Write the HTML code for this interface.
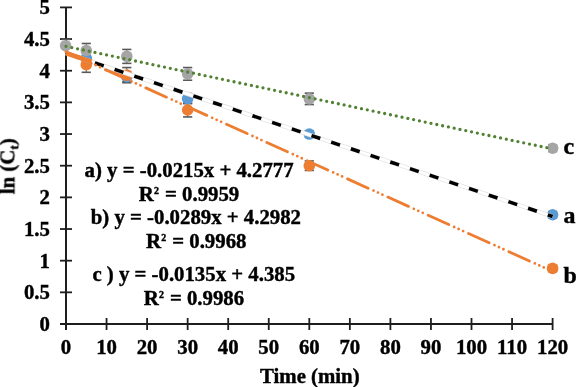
<!DOCTYPE html><html><head><meta charset="utf-8"><style>html,body{margin:0;padding:0;background:#fff;width:576px;height:387px;overflow:hidden}svg{display:block}text{will-change:transform;stroke:#000;stroke-width:0.4px}</style></head><body>
<svg width="576" height="387" viewBox="0 0 576 387">
<defs><clipPath id="cD"><rect x="548.1" y="130" width="20" height="40"/></clipPath></defs>
<rect width="576" height="387" fill="#fff"/>
<g stroke="#1e1e1e" stroke-width="2" fill="none">
<line x1="66" y1="7" x2="66" y2="330"/>
<line x1="60" y1="324" x2="553.1" y2="324"/>
<line x1="60" y1="324.00" x2="72" y2="324.00" stroke-width="1.8"/>
<line x1="60" y1="292.34" x2="72" y2="292.34" stroke-width="1.8"/>
<line x1="60" y1="260.68" x2="72" y2="260.68" stroke-width="1.8"/>
<line x1="60" y1="229.02" x2="72" y2="229.02" stroke-width="1.8"/>
<line x1="60" y1="197.36" x2="72" y2="197.36" stroke-width="1.8"/>
<line x1="60" y1="165.70" x2="72" y2="165.70" stroke-width="1.8"/>
<line x1="60" y1="134.04" x2="72" y2="134.04" stroke-width="1.8"/>
<line x1="60" y1="102.38" x2="72" y2="102.38" stroke-width="1.8"/>
<line x1="60" y1="70.72" x2="72" y2="70.72" stroke-width="1.8"/>
<line x1="60" y1="39.06" x2="72" y2="39.06" stroke-width="1.8"/>
<line x1="60" y1="7.40" x2="72" y2="7.40" stroke-width="1.8"/>
<line x1="106.55" y1="318" x2="106.55" y2="330" stroke-width="1.8"/>
<line x1="147.10" y1="318" x2="147.10" y2="330" stroke-width="1.8"/>
<line x1="187.65" y1="318" x2="187.65" y2="330" stroke-width="1.8"/>
<line x1="228.20" y1="318" x2="228.20" y2="330" stroke-width="1.8"/>
<line x1="268.75" y1="318" x2="268.75" y2="330" stroke-width="1.8"/>
<line x1="309.30" y1="318" x2="309.30" y2="330" stroke-width="1.8"/>
<line x1="349.85" y1="318" x2="349.85" y2="330" stroke-width="1.8"/>
<line x1="390.40" y1="318" x2="390.40" y2="330" stroke-width="1.8"/>
<line x1="430.95" y1="318" x2="430.95" y2="330" stroke-width="1.8"/>
<line x1="471.50" y1="318" x2="471.50" y2="330" stroke-width="1.8"/>
<line x1="512.05" y1="318" x2="512.05" y2="330" stroke-width="1.8"/>
<line x1="552.60" y1="318" x2="552.60" y2="330" stroke-width="1.8"/>
</g>
<g fill="#000">
<text transform="translate(49.90,330.90) scale(1.04,1)" text-anchor="end" style='font-family:"Liberation Serif",serif;font-weight:bold;font-size:20px'>0</text>
<text transform="translate(49.90,299.24) scale(1.04,1)" text-anchor="end" style='font-family:"Liberation Serif",serif;font-weight:bold;font-size:20px'>0.5</text>
<text transform="translate(49.90,267.58) scale(1.04,1)" text-anchor="end" style='font-family:"Liberation Serif",serif;font-weight:bold;font-size:20px'>1</text>
<text transform="translate(49.90,235.92) scale(1.04,1)" text-anchor="end" style='font-family:"Liberation Serif",serif;font-weight:bold;font-size:20px'>1.5</text>
<text transform="translate(49.90,204.26) scale(1.04,1)" text-anchor="end" style='font-family:"Liberation Serif",serif;font-weight:bold;font-size:20px'>2</text>
<text transform="translate(49.90,172.60) scale(1.04,1)" text-anchor="end" style='font-family:"Liberation Serif",serif;font-weight:bold;font-size:20px'>2.5</text>
<text transform="translate(49.90,140.94) scale(1.04,1)" text-anchor="end" style='font-family:"Liberation Serif",serif;font-weight:bold;font-size:20px'>3</text>
<text transform="translate(49.90,109.28) scale(1.04,1)" text-anchor="end" style='font-family:"Liberation Serif",serif;font-weight:bold;font-size:20px'>3.5</text>
<text transform="translate(49.90,77.62) scale(1.04,1)" text-anchor="end" style='font-family:"Liberation Serif",serif;font-weight:bold;font-size:20px'>4</text>
<text transform="translate(49.90,45.96) scale(1.04,1)" text-anchor="end" style='font-family:"Liberation Serif",serif;font-weight:bold;font-size:20px'>4.5</text>
<text transform="translate(49.90,14.30) scale(1.04,1)" text-anchor="end" style='font-family:"Liberation Serif",serif;font-weight:bold;font-size:20px'>5</text>
<text transform="translate(66.00,354.30) scale(1.04,1)" text-anchor="middle" style='font-family:"Liberation Serif",serif;font-weight:bold;font-size:20px'>0</text>
<text transform="translate(106.55,354.30) scale(1.04,1)" text-anchor="middle" style='font-family:"Liberation Serif",serif;font-weight:bold;font-size:20px'>10</text>
<text transform="translate(147.10,354.30) scale(1.04,1)" text-anchor="middle" style='font-family:"Liberation Serif",serif;font-weight:bold;font-size:20px'>20</text>
<text transform="translate(187.65,354.30) scale(1.04,1)" text-anchor="middle" style='font-family:"Liberation Serif",serif;font-weight:bold;font-size:20px'>30</text>
<text transform="translate(228.20,354.30) scale(1.04,1)" text-anchor="middle" style='font-family:"Liberation Serif",serif;font-weight:bold;font-size:20px'>40</text>
<text transform="translate(268.75,354.30) scale(1.04,1)" text-anchor="middle" style='font-family:"Liberation Serif",serif;font-weight:bold;font-size:20px'>50</text>
<text transform="translate(309.30,354.30) scale(1.04,1)" text-anchor="middle" style='font-family:"Liberation Serif",serif;font-weight:bold;font-size:20px'>60</text>
<text transform="translate(349.85,354.30) scale(1.04,1)" text-anchor="middle" style='font-family:"Liberation Serif",serif;font-weight:bold;font-size:20px'>70</text>
<text transform="translate(390.40,354.30) scale(1.04,1)" text-anchor="middle" style='font-family:"Liberation Serif",serif;font-weight:bold;font-size:20px'>80</text>
<text transform="translate(430.95,354.30) scale(1.04,1)" text-anchor="middle" style='font-family:"Liberation Serif",serif;font-weight:bold;font-size:20px'>90</text>
<text transform="translate(471.50,354.30) scale(1.04,1)" text-anchor="middle" style='font-family:"Liberation Serif",serif;font-weight:bold;font-size:20px'>100</text>
<text transform="translate(512.05,354.30) scale(1.04,1)" text-anchor="middle" style='font-family:"Liberation Serif",serif;font-weight:bold;font-size:20px'>110</text>
<text transform="translate(552.60,354.30) scale(1.04,1)" text-anchor="middle" style='font-family:"Liberation Serif",serif;font-weight:bold;font-size:20px'>120</text>
<text transform="translate(309.80,383.20) scale(1.04,1)" text-anchor="middle" style='font-family:"Liberation Serif",serif;font-weight:bold;font-size:20px'>Time (min)</text>
</g>
<text transform="translate(14.4,194.2) rotate(-90)" style='font-family:"Liberation Serif",serif;font-weight:bold;font-size:20.8px'>ln (C<tspan font-size="13.5" dy="4">t</tspan><tspan dy="-4">)</tspan></text>
<line x1="86.28" y1="52.99" x2="86.28" y2="63.12" stroke="#595959" stroke-width="1"/>
<line x1="81.68" y1="52.99" x2="90.88" y2="52.99" stroke="#595959" stroke-width="1.6"/>
<line x1="81.68" y1="63.12" x2="90.88" y2="63.12" stroke="#595959" stroke-width="1.6"/>
<line x1="126.82" y1="71.67" x2="126.82" y2="81.80" stroke="#595959" stroke-width="1"/>
<line x1="122.22" y1="71.67" x2="131.42" y2="71.67" stroke="#595959" stroke-width="1.6"/>
<line x1="122.22" y1="81.80" x2="131.42" y2="81.80" stroke="#595959" stroke-width="1.6"/>
<line x1="187.65" y1="93.52" x2="187.65" y2="103.65" stroke="#595959" stroke-width="1"/>
<line x1="183.05" y1="93.52" x2="192.25" y2="93.52" stroke="#595959" stroke-width="1.6"/>
<line x1="183.05" y1="103.65" x2="192.25" y2="103.65" stroke="#595959" stroke-width="1.6"/>
<line x1="309.30" y1="130.87" x2="309.30" y2="137.21" stroke="#595959" stroke-width="1"/>
<line x1="304.70" y1="130.87" x2="313.90" y2="130.87" stroke="#595959" stroke-width="1.6"/>
<line x1="304.70" y1="137.21" x2="313.90" y2="137.21" stroke="#595959" stroke-width="1.6"/>
<line x1="552.60" y1="211.61" x2="552.60" y2="217.94" stroke="#595959" stroke-width="1"/>
<line x1="548.00" y1="211.61" x2="557.20" y2="211.61" stroke="#595959" stroke-width="1.6"/>
<line x1="548.00" y1="217.94" x2="557.20" y2="217.94" stroke="#595959" stroke-width="1.6"/>
<line x1="86.28" y1="57.11" x2="86.28" y2="72.30" stroke="#595959" stroke-width="1"/>
<line x1="81.68" y1="57.11" x2="90.88" y2="57.11" stroke="#595959" stroke-width="1.6"/>
<line x1="81.68" y1="72.30" x2="90.88" y2="72.30" stroke="#595959" stroke-width="1.6"/>
<line x1="126.82" y1="67.55" x2="126.82" y2="82.75" stroke="#595959" stroke-width="1"/>
<line x1="122.22" y1="67.55" x2="131.42" y2="67.55" stroke="#595959" stroke-width="1.6"/>
<line x1="122.22" y1="82.75" x2="131.42" y2="82.75" stroke="#595959" stroke-width="1.6"/>
<line x1="187.65" y1="103.01" x2="187.65" y2="116.94" stroke="#595959" stroke-width="1"/>
<line x1="183.05" y1="103.01" x2="192.25" y2="103.01" stroke="#595959" stroke-width="1.6"/>
<line x1="183.05" y1="116.94" x2="192.25" y2="116.94" stroke="#595959" stroke-width="1.6"/>
<line x1="309.30" y1="160.95" x2="309.30" y2="170.45" stroke="#595959" stroke-width="1"/>
<line x1="304.70" y1="160.95" x2="313.90" y2="160.95" stroke="#595959" stroke-width="1.6"/>
<line x1="304.70" y1="170.45" x2="313.90" y2="170.45" stroke="#595959" stroke-width="1.6"/>
<line x1="552.60" y1="265.24" x2="552.60" y2="271.57" stroke="#595959" stroke-width="1"/>
<line x1="548.00" y1="265.24" x2="557.20" y2="265.24" stroke="#595959" stroke-width="1.6"/>
<line x1="548.00" y1="271.57" x2="557.20" y2="271.57" stroke="#595959" stroke-width="1.6"/>
<line x1="61.40" y1="39.38" x2="70.60" y2="39.38" stroke="#595959" stroke-width="1.6"/>
<line x1="86.28" y1="43.49" x2="86.28" y2="57.42" stroke="#595959" stroke-width="1"/>
<line x1="81.68" y1="43.49" x2="90.88" y2="43.49" stroke="#595959" stroke-width="1.6"/>
<line x1="81.68" y1="57.42" x2="90.88" y2="57.42" stroke="#595959" stroke-width="1.6"/>
<line x1="126.82" y1="49.44" x2="126.82" y2="63.37" stroke="#595959" stroke-width="1"/>
<line x1="122.22" y1="49.44" x2="131.42" y2="49.44" stroke="#595959" stroke-width="1.6"/>
<line x1="122.22" y1="63.37" x2="131.42" y2="63.37" stroke="#595959" stroke-width="1.6"/>
<line x1="187.65" y1="67.55" x2="187.65" y2="80.22" stroke="#595959" stroke-width="1"/>
<line x1="183.05" y1="67.55" x2="192.25" y2="67.55" stroke="#595959" stroke-width="1.6"/>
<line x1="183.05" y1="80.22" x2="192.25" y2="80.22" stroke="#595959" stroke-width="1.6"/>
<line x1="309.30" y1="93.14" x2="309.30" y2="104.53" stroke="#595959" stroke-width="1"/>
<line x1="304.70" y1="93.14" x2="313.90" y2="93.14" stroke="#595959" stroke-width="1.6"/>
<line x1="304.70" y1="104.53" x2="313.90" y2="104.53" stroke="#595959" stroke-width="1.6"/>
<line x1="552.60" y1="145.06" x2="552.60" y2="151.39" stroke="#595959" stroke-width="1"/>
<line x1="548.00" y1="145.06" x2="557.20" y2="145.06" stroke="#595959" stroke-width="1.6"/>
<line x1="548.00" y1="151.39" x2="557.20" y2="151.39" stroke="#595959" stroke-width="1.6"/>
<circle cx="86.28" cy="58.06" r="5.8" fill="#5B9BD5"/>
<circle cx="126.82" cy="76.74" r="5.8" fill="#5B9BD5"/>
<circle cx="187.65" cy="98.58" r="5.8" fill="#5B9BD5"/>
<circle cx="309.30" cy="134.04" r="5.8" fill="#5B9BD5"/>
<circle cx="552.60" cy="214.77" r="5.8" fill="#5B9BD5"/>
<circle cx="86.28" cy="64.70" r="5.8" fill="#ED7D31"/>
<circle cx="126.82" cy="75.15" r="5.8" fill="#ED7D31"/>
<circle cx="187.65" cy="109.98" r="5.8" fill="#ED7D31"/>
<circle cx="309.30" cy="165.70" r="5.8" fill="#ED7D31"/>
<circle cx="552.60" cy="268.41" r="5.8" fill="#ED7D31"/>
<circle cx="65.60" cy="45.71" r="5.8" fill="#A5A5A5"/>
<circle cx="86.28" cy="50.46" r="5.8" fill="#A5A5A5"/>
<circle cx="126.82" cy="56.41" r="5.8" fill="#A5A5A5"/>
<circle cx="187.65" cy="73.89" r="5.8" fill="#A5A5A5"/>
<circle cx="309.30" cy="98.83" r="5.8" fill="#A5A5A5"/>
<circle cx="552.60" cy="148.22" r="5.8" fill="#A5A5A5" clip-path="url(#cD)"/>
<line x1="106" y1="69.79" x2="126.82" y2="75.15" stroke="#ED7D31" stroke-width="3" stroke-linecap="round"/>
<line x1="66.0" y1="53.14" x2="552.60" y2="216.50" stroke="#e2e2e2" stroke-width="4.4"/>
<line x1="66.0" y1="53.14" x2="552.60" y2="216.50" stroke="#fff" stroke-width="2.8"/>
<line x1="66.0" y1="53.14" x2="552.60" y2="216.50" stroke="#000" stroke-width="3.5" stroke-dasharray="9.3 11.47" stroke-dashoffset="11.06"/>
<line x1="66" y1="53.14" x2="91.5" y2="61.70" stroke="#ED7D31" stroke-width="4.6"/>
<line x1="66.0" y1="51.84" x2="552.60" y2="271.43" stroke="#ED7D31" stroke-width="2.8" stroke-linecap="round" stroke-dasharray="22.6 5.9 0 4.9 0 4.9 0 5.95" stroke-dashoffset="0.9"/>
<line x1="66.0" y1="46.34" x2="552.60" y2="148.92" stroke="#518233" stroke-width="3.3" stroke-linecap="round" stroke-dasharray="0 5.921"/>
<g fill="#000">
<text transform="translate(563.50,154.30) scale(1.04,1)" text-anchor="start" style='font-family:"Liberation Serif",serif;font-weight:bold;font-size:23px'>c</text>
<text transform="translate(563.50,223.20) scale(1.04,1)" text-anchor="start" style='font-family:"Liberation Serif",serif;font-weight:bold;font-size:23px'>a</text>
<text transform="translate(563.50,283.30) scale(1.04,1)" text-anchor="start" style='font-family:"Liberation Serif",serif;font-weight:bold;font-size:23px'>b</text>
</g>
<g fill="#000">
<text transform="translate(84.60,176.70) scale(1.04,1)" text-anchor="start" style='font-family:"Liberation Serif",serif;font-weight:bold;font-size:20px'>a) y = -0.0215x + 4.2777</text>
<text transform="translate(138.80,200.80) scale(1.04,1)" text-anchor="start" style='font-family:"Liberation Serif",serif;font-weight:bold;font-size:20px'>R<tspan font-size="9.6px" dy="-6.9" dx="0.3">2</tspan><tspan dy="6.9" dx="0.7"> = 0.9959</tspan></text>
<text transform="translate(90.80,224.40) scale(1.04,1)" text-anchor="start" style='font-family:"Liberation Serif",serif;font-weight:bold;font-size:20px'>b) y = -0.0289x + 4.2982</text>
<text transform="translate(146.00,248.00) scale(1.04,1)" text-anchor="start" style='font-family:"Liberation Serif",serif;font-weight:bold;font-size:20px'>R<tspan font-size="9.6px" dy="-6.9" dx="0.3">2</tspan><tspan dy="6.9" dx="0.7"> = 0.9968</tspan></text>
<text transform="translate(92.40,281.00) scale(1.04,1)" text-anchor="start" style='font-family:"Liberation Serif",serif;font-weight:bold;font-size:20px'>c ) y = -0.0135x + 4.385</text>
<text transform="translate(143.70,304.80) scale(1.04,1)" text-anchor="start" style='font-family:"Liberation Serif",serif;font-weight:bold;font-size:20px'>R<tspan font-size="9.6px" dy="-6.9" dx="0.3">2</tspan><tspan dy="6.9" dx="0.7"> = 0.9986</tspan></text>
</g>
</svg></body></html>
